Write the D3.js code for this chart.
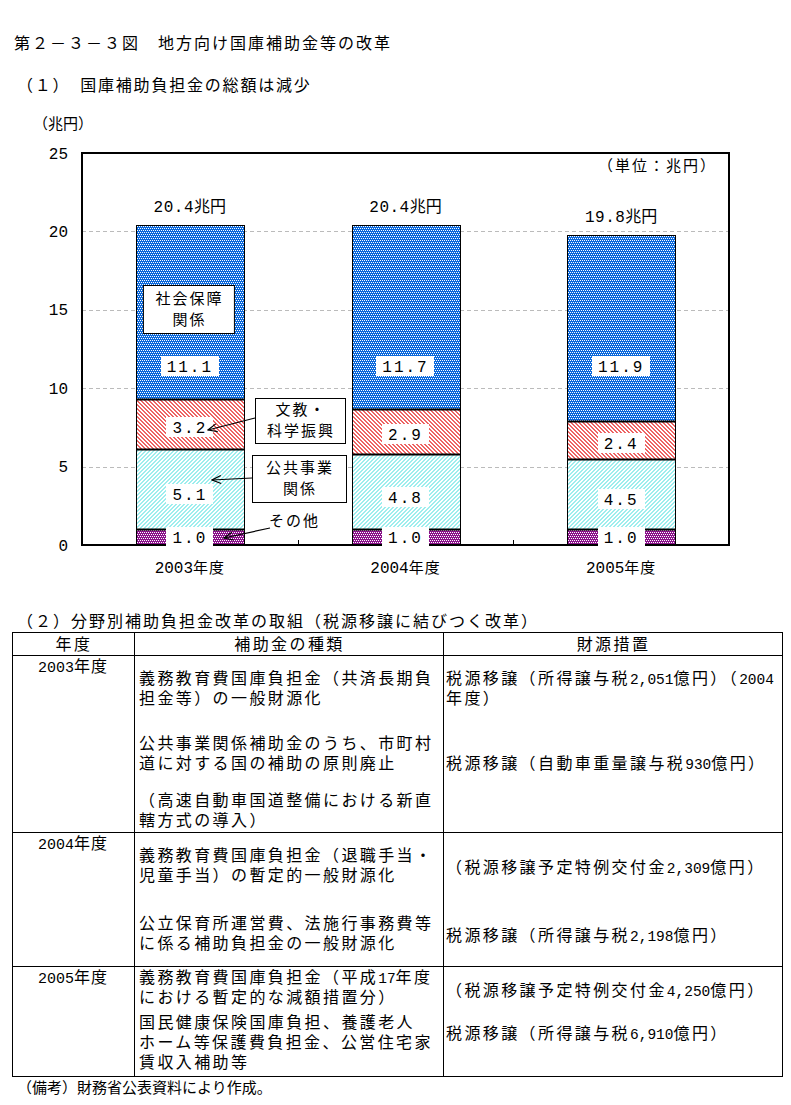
<!DOCTYPE html>
<html><head><meta charset="utf-8">
<script src="https://cdn.jsdelivr.net/npm/d3@7"></script>
<style>body{margin:0;background:#fff}svg{display:block}</style>
</head><body>
<script>
// ---------- DATA ----------
const categories = ["2003年度", "2004年度", "2005年度"];
const seriesNames = ["その他", "公共事業関係", "文教・科学振興", "社会保障関係"];
const otherVals = [1.0, 1.0, 1.0];
const publicWorksVals = [5.1, 4.8, 4.5];
const educationVals = [3.2, 2.9, 2.4];
const socialVals = [11.1, 11.7, 11.9];
const totalVals = [20.4, 20.4, 19.8];
const yTicks = [0, 5, 10, 15, 20, 25];

const tableHeaders = ["年度", "補助金の種類", "財源措置"];
const tableYears = ["2003年度", "2004年度", "2005年度"];
const subsidyTypes = [
  [["義務教育費国庫負担金（共済長期負", "担金等）の一般財源化"],
   ["公共事業関係補助金のうち、市町村", "道に対する国の補助の原則廃止"],
   ["（高速自動車国道整備における新直", "轄方式の導入）"]],
  [["義務教育費国庫負担金（退職手当・", "児童手当）の暫定的一般財源化"],
   ["公立保育所運営費、法施行事務費等", "に係る補助負担金の一般財源化"]],
  [["義務教育費国庫負担金（平成17年度", "における暫定的な減額措置分）"],
   ["国民健康保険国庫負担、養護老人", "ホーム等保護費負担金、公営住宅家", "賃収入補助等"]]
];
const fundingMeasures = [
  [["税源移譲（所得譲与税2,051億円）（2004", "年度）"],
   ["税源移譲（自動車重量譲与税930億円）"]],
  [["（税源移譲予定特例交付金2,309億円）"],
   ["税源移譲（所得譲与税2,198億円）"]],
  [["（税源移譲予定特例交付金4,250億円）"],
   ["税源移譲（所得譲与税6,910億円）"]]
];

// ---------- LAYOUT ----------
const W = 791, H = 1105;
const CJK = "'Noto Sans CJK JP', 'Noto Sans CJK SC', sans-serif";
const MONO = "'Liberation Mono', 'DejaVu Sans Mono', monospace";
const plot = {left: 82, right: 729, top: 153, bottom: 545};

const svg = d3.select("body").append("svg").attr("width", W).attr("height", H)
  .attr("viewBox", `0 0 ${W} ${H}`);
svg.append("rect").attr("width", W).attr("height", H).attr("fill", "#fff");

function mixed(sel, str, o) {
  const runs = str.match(/[\x20-\x7E]+|[^\x20-\x7E]+/g) || [];
  runs.forEach(r => {
    const ascii = /^[\x20-\x7E]+$/.test(r);
    sel.append("tspan").text(r)
      .attr("font-family", ascii ? MONO : CJK)
      .attr("font-size", ascii ? o.asciiSize : o.size)
      .attr("letter-spacing", ascii ? (o.asciiSpacing || 0) : o.spacing);
  });
  return sel;
}
function addText(g, str, x, y, o) {
  const t = g.append("text").attr("x", x).attr("y", y + Math.round(o.size * 0.36))
    .attr("text-anchor", o.anchor || "start").attr("fill", "#000");
  return mixed(t, str, o);
}

// ---------- PATTERNS ----------
const defs = svg.append("defs");
function checker(id, color) {
  const n = 4;
  const p = defs.append("pattern").attr("id", id).attr("patternUnits", "userSpaceOnUse")
    .attr("x", 0).attr("y", 0).attr("width", n).attr("height", n);
  p.append("rect").attr("x", 0).attr("y", 0).attr("width", n).attr("height", n).attr("fill", color);
  for (let r = 0; r < n; r += 2) for (let c = 0; c < n; c += 2)
    p.append("rect").attr("x", c + (r % 4 === 2 ? 1 : 0)).attr("y", r).attr("width", 1).attr("height", 1).attr("fill", "#ffffff");
}
checker("pSocial", "#0a68dc");
checker("pOther", "#8a108a");
function stripes(id, color, down) {
  const n = 4;
  const p = defs.append("pattern").attr("id", id).attr("patternUnits", "userSpaceOnUse")
    .attr("x", 0).attr("y", 0).attr("width", n).attr("height", n);
  p.append("rect").attr("width", n).attr("height", n).attr("fill", "#fff");
  for (let r = 0; r < n; r++) {
    for (let k = 0; k < 2; k++) {
      const c = down ? (r + k) % n : (n - 1 - r + k + n) % n;
      p.append("rect").attr("x", c).attr("y", r).attr("width", 1).attr("height", 1).attr("fill", color);
    }
  }
}
stripes("pEdu", "#ee6464", true);
stripes("pPublic", "#9deeee", false);
const fills = ["url(#pOther)", "url(#pPublic)", "url(#pEdu)", "url(#pSocial)"];

// ---------- SCALES ----------
const x = d3.scaleBand().domain(categories).range([plot.left, plot.right])
  .paddingInner(0.5).paddingOuter(0.25);
const y = d3.scaleLinear().domain([0, 25]).range([plot.bottom, plot.top]);

// ---------- TITLES ----------
const tg = svg.append("g");
addText(tg, "第２－３－３図　地方向け国庫補助金等の改革", 14, 43, {size: 16, spacing: 2, asciiSize: 16});
addText(tg, "（１）　国庫補助負担金の総額は減少", 17, 85, {size: 16, spacing: 1.8, asciiSize: 16});
addText(tg, "（兆円）", 33, 124, {size: 15, spacing: 0, asciiSize: 15});

// ---------- GRID ----------
svg.append("g").selectAll("line").data(yTicks.filter(t => t > 0 && t < 25)).join("line")
  .attr("x1", plot.left).attr("x2", plot.right)
  .attr("y1", d => Math.round(y(d)) + 0.5).attr("y2", d => Math.round(y(d)) + 0.5)
  .attr("stroke", "#bbb").attr("stroke-dasharray", "4,3");

// ---------- BARS ----------
const rows = categories.map((c, i) => ({cat: c, vals: [otherVals[i], publicWorksVals[i], educationVals[i], socialVals[i]]}));
const stackData = rows.map(r => { const o = {cat: r.cat}; seriesNames.forEach((s, j) => o[s] = r.vals[j]); return o; });
const stacked = d3.stack().keys(seriesNames)(stackData);

const barG = svg.append("g");
stacked.forEach((layer, j) => {
  barG.append("g").selectAll("rect").data(layer).join("rect")
    .attr("x", d => Math.round(x(d.data.cat)) + 0.5)
    .attr("y", d => Math.round(y(d[1])) + 0.5)
    .attr("width", Math.round(x.bandwidth()))
    .attr("height", d => Math.round(y(d[0])) - Math.round(y(d[1])))
    .attr("fill", fills[j]).attr("stroke", "#000").attr("stroke-width", 1);
});
stacked.slice(1).forEach(layer => {
  barG.append("g").selectAll("line").data(layer).join("line")
    .attr("x1", d => Math.round(x(d.data.cat)))
    .attr("x2", d => Math.round(x(d.data.cat)) + Math.round(x.bandwidth()) + 1)
    .attr("y1", d => Math.round(y(d[0])) + 0.5).attr("y2", d => Math.round(y(d[0])) + 0.5)
    .attr("stroke", "#000").attr("stroke-width", 2);
});

// ---------- FRAME & AXES ----------
svg.append("rect").attr("x", plot.left).attr("y", plot.top)
  .attr("width", plot.right - plot.left).attr("height", plot.bottom - plot.top)
  .attr("fill", "none").attr("stroke", "#000").attr("stroke-width", 2);
const sepX = categories.slice(1).map(c => x(c) - x.step() * x.paddingInner() / 2);
svg.append("g").selectAll("line").data(sepX).join("line")
  .attr("x1", d => Math.round(d) + 0.5).attr("x2", d => Math.round(d) + 0.5)
  .attr("y1", plot.bottom).attr("y2", plot.bottom - 5)
  .attr("stroke", "#000");

const yAxis = svg.append("g").attr("transform", `translate(${plot.left},0)`)
  .call(d3.axisLeft(y).tickValues(yTicks).tickSize(0).tickPadding(14));
yAxis.select(".domain").remove();
yAxis.selectAll("text").attr("font-family", MONO).attr("font-size", 16).attr("fill", "#000");

const xAxis = svg.append("g").attr("transform", `translate(0,${plot.bottom})`)
  .call(d3.axisBottom(x).tickSize(0).tickPadding(14));
xAxis.select(".domain").remove();
xAxis.selectAll("text").each(function(d) {
  const t = d3.select(this); t.text(null).attr("dy", null).attr("y", 28);
  mixed(t, d, {size: 15, spacing: 1, asciiSize: 16});
});

// ---------- VALUE LABELS ----------
const labG = svg.append("g");
function boxedLabel(txt, cx, cy) {
  const g = labG.append("g");
  const t = g.append("text").attr("x", cx).attr("y", cy + 6).attr("text-anchor", "middle")
    .attr("font-family", MONO).attr("font-size", 16)
    .attr("letter-spacing", 2).text(txt);
  const bb = t.node().getBBox();
  g.insert("rect", "text").attr("x", Math.round(cx - bb.width / 2 - 6)).attr("y", Math.round(cy - 10))
    .attr("width", Math.round(bb.width + 12)).attr("height", 20).attr("fill", "#fff");
}
const labelOffsets = [0, 5, 3, 0];
stacked.forEach((layer, j) => {
  layer.forEach(d => {
    const cx = x(d.data.cat) + x.bandwidth() / 2;
    const cy = j === 3 ? y(11.4) : y((d[0] + d[1]) / 2) + labelOffsets[j];
    boxedLabel(d3.format(".1f")(d[1] - d[0]), cx, cy);
  });
});
categories.forEach((c, i) => {
  addText(labG, d3.format(".1f")(totalVals[i]) + "兆円", x(c) + x.bandwidth() / 2, y(totalVals[i]) - 19,
    {size: 16, spacing: 0, asciiSize: 16, asciiSpacing: 0.5, anchor: "middle"});
});
addText(labG, "（単位：兆円）", 598, 166, {size: 15, spacing: 2, asciiSize: 15});

// ---------- ANNOTATIONS ----------
const annG = svg.append("g");
defs.append("marker").attr("id", "arrow").attr("viewBox", "-1 -5 11 10")
  .attr("refX", 9).attr("refY", 0).attr("markerWidth", 11).attr("markerHeight", 10)
  .attr("markerUnits", "userSpaceOnUse").attr("orient", "auto")
  .append("path").attr("d", "M0,-4 L9,0 L0,4").attr("fill", "none").attr("stroke", "#000").attr("stroke-width", 1.2);

function annBox(lines, bx, by, bw, bh) {
  annG.append("rect").attr("x", bx + 0.5).attr("y", by + 0.5).attr("width", bw).attr("height", bh)
    .attr("fill", "#fff").attr("stroke", "#000");
  lines.forEach((l, k) => addText(annG, l, bx + bw / 2 + 1, by + bh / 2 + (k - (lines.length - 1) / 2) * 21,
    {size: 15, spacing: 2, asciiSize: 15, anchor: "middle"}));
}
const bx0 = x(categories[0]);
annBox(["社会保障", "関係"], bx0 + 7, 285, 91, 48);
annBox(["文教・", "科学振興"], 255, 398, 90, 45);
annBox(["公共事業", "関係"], 252, 455, 94, 47);
addText(annG, "その他", 269, 521, {size: 15, spacing: 2, asciiSize: 15});

function arrow(x1, y1, x2, y2) {
  annG.append("line").attr("x1", x1).attr("y1", y1).attr("x2", x2).attr("y2", y2)
    .attr("stroke", "#000").attr("stroke-width", 1.2).attr("marker-end", "url(#arrow)");
}
arrow(255, 418, 208, 430);
arrow(252, 478, 212, 480);
arrow(270, 528, 224, 538);

// ---------- TABLE ----------
const tbl = svg.append("g");
addText(tbl, "（２）分野別補助負担金改革の取組（税源移譲に結びつく改革）", 17, 621, {size: 16, spacing: 2, asciiSize: 16});
const colX = [12, 134, 443, 782];
const rowY = [632, 655, 832, 966, 1076];
tbl.append("rect").attr("x", colX[0] + 0.5).attr("y", rowY[0] + 0.5)
  .attr("width", colX[3] - colX[0]).attr("height", rowY[4] - rowY[0])
  .attr("fill", "none").attr("stroke", "#000");
tbl.selectAll(".rl").data(rowY.slice(1, 4)).join("line")
  .attr("x1", colX[0]).attr("x2", colX[3]).attr("y1", d => d + 0.5).attr("y2", d => d + 0.5).attr("stroke", "#000");
tbl.selectAll(".cl").data(colX.slice(1, 3)).join("line")
  .attr("x1", d => d + 0.5).attr("x2", d => d + 0.5).attr("y1", rowY[0]).attr("y2", rowY[4]).attr("stroke", "#000");

const tOpt = {size: 16, spacing: 2.4, asciiSize: 14.5};
tableHeaders.forEach((h, i) => addText(tbl, h, (colX[i] + colX[i + 1]) / 2 + 1, 644, Object.assign({anchor: "middle"}, tOpt)));
const yearY = [666, 843, 977];
tableYears.forEach((yr, i) => addText(tbl, yr, 73, yearY[i], Object.assign({anchor: "middle"}, tOpt, {spacing: 1, asciiSize: 15})));
const typeParaY = [[678, 743, 800], [855, 923], [977, 1022]];
const fundParaY = [[678, 763], [867, 935], [990, 1033]];
const lineH = 20;
subsidyTypes.forEach((paras, i) => paras.forEach((lines, p) => lines.forEach((l, k) =>
  addText(tbl, l, 139, typeParaY[i][p] + k * lineH, tOpt))));
fundingMeasures.forEach((paras, i) => paras.forEach((lines, p) => lines.forEach((l, k) =>
  addText(tbl, l, 446, fundParaY[i][p] + k * lineH, tOpt))));

addText(tbl, "（備考）財務省公表資料により作成。", 17, 1088, {size: 15, spacing: 0, asciiSize: 15});
</script>
</body></html>
